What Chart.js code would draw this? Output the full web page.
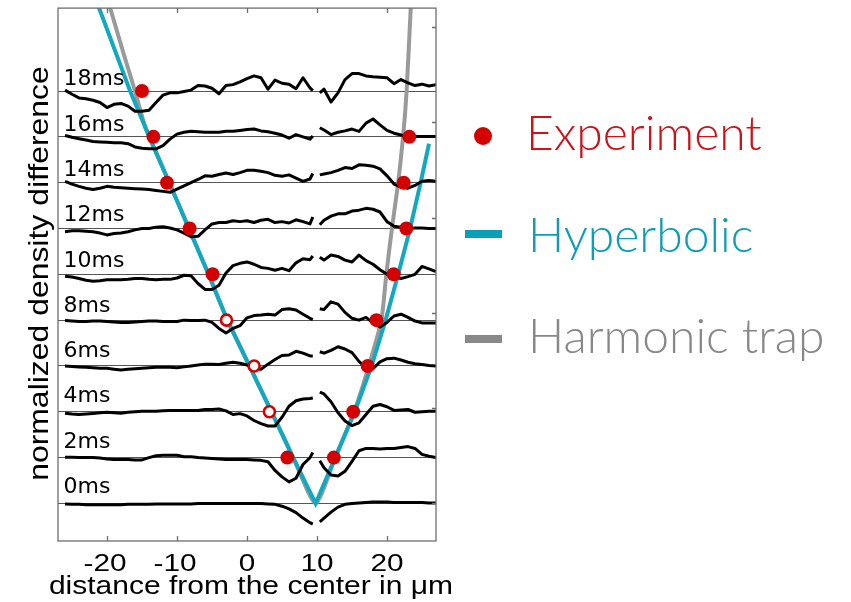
<!DOCTYPE html>
<html>
<head>
<meta charset="utf-8">
<script src="https://cdn.jsdelivr.net/npm/chart.js"></script>
<style>
html,body{margin:0;padding:0;background:#fff;}
</style>
</head>
<body>
<canvas id="myChart" width="851" height="602"></canvas>
<script>
// x positions (um) shared by all traces; 9.9 is the gap in the middle
const xs = [-26,-25,-24,-23,-22,-21,-20,-19,-18,-17,-16,-15,-14,-13,-12,-11,-10,-9,-8,-7,-6,-5,-4,-3,-2,-1,0,1,2,3,4,5,6,7,8,9,
  9.4,9.9,10.4,11,12,13,14,15,16,17,18,19,20,21,22,23,24,25,26,27];

const traceLabels = ['0ms','2ms','4ms','6ms','8ms','10ms','12ms','14ms','16ms','18ms'];

// density difference for each time step (one trace spacing = 1)
const t0 = [-0.01,-0.02,-0.02,-0.03,-0.03,-0.03,-0.03,-0.03,-0.03,-0.02,-0.02,-0.02,-0.02,-0.01,-0.01,-0.01,-0.01,-0.01,-0.01,0,0,0,0,0,0,0,0,0,0,-0.01,-0.02,-0.06,-0.12,-0.20,-0.32,-0.42,
  -0.45,null,-0.40,-0.32,-0.19,-0.08,-0.02,0,0.01,0.02,0.03,0.03,0.03,0.02,0.02,0.02,0.02,0.02,0.01,0.01];
const t2 = [0.01,0.01,0,0,0,-0.01,-0.03,-0.04,-0.04,-0.04,-0.05,-0.05,0,0.04,0.05,0.05,0.05,0.02,0.02,0,-0.01,-0.02,-0.03,-0.04,-0.04,-0.04,-0.04,-0.05,-0.06,-0.09,-0.28,-0.42,-0.53,-0.45,-0.15,0,
  0.11,null,-0.07,-0.22,-0.38,-0.40,-0.30,-0.08,0.15,0.20,0.20,0.19,0.20,0.20,0.22,0.24,0.20,0.07,0.03,0];
const t4 = [-0.03,-0.05,-0.06,-0.05,-0.04,-0.02,-0.01,-0.02,-0.03,-0.01,0,0.01,0.01,0.01,0.02,0.03,0.03,0.03,0.03,0.03,0.05,0.05,0.06,0.02,-0.06,-0.04,-0.09,-0.19,-0.26,-0.31,-0.31,-0.12,0.12,0.24,0.28,0.29,
  0.30,null,0.43,0.39,0.22,-0.02,-0.20,-0.30,-0.24,-0.06,0.12,0.16,0.11,0.03,0.04,0.05,-0.01,0,0.01,0.01];
const t6 = [0,-0.01,-0.02,-0.03,-0.04,-0.05,-0.05,-0.07,-0.09,-0.07,-0.06,-0.05,-0.04,-0.03,-0.03,-0.03,-0.04,-0.02,0,0.02,0.04,0.04,0.03,0.06,0.08,0.06,0.02,-0.06,-0.07,0.04,0.14,0.23,0.24,0.32,0.28,0.22,
  0.22,null,0.31,0.28,0.34,0.42,0.37,0.29,0.10,-0.04,-0.06,0.09,0.16,0.17,0.13,0.08,0.05,0.03,0.01,0];
const t8 = [-0.01,-0.02,-0.03,-0.03,-0.02,-0.02,-0.03,-0.04,-0.05,-0.05,-0.04,-0.03,-0.02,-0.02,-0.03,-0.03,-0.03,0,-0.01,-0.01,0,-0.05,-0.18,-0.28,-0.18,-0.12,0.05,0.10,0.11,0.13,0.11,0.23,0.25,0.22,0.13,0.04,
  0.01,null,0.25,0.23,0.40,0.35,0.17,0.04,0,0.06,-0.06,-0.15,-0.05,0.09,0.13,0.06,-0.02,-0.06,-0.06,-0.06];
const t10 = [-0.04,-0.06,-0.09,-0.13,-0.15,-0.14,-0.12,-0.12,-0.12,-0.11,-0.09,-0.09,-0.11,-0.12,-0.11,-0.11,-0.08,-0.02,-0.03,-0.20,-0.33,-0.33,-0.24,0.03,0.19,0.24,0.27,0.22,0.15,0.13,0.09,0.13,0.08,0.25,0.34,0.32,
  0.40,null,0.37,0.31,0.42,0.39,0.31,0.27,0.42,0.30,0.22,0.10,0,-0.05,-0.09,-0.05,0,0.17,0.12,0.06];
const t12 = [-0.07,-0.05,-0.05,-0.06,-0.07,-0.10,-0.14,-0.11,-0.10,-0.07,-0.03,0,0,0.03,0.04,0.01,-0.03,-0.10,-0.18,-0.17,-0.03,0.10,0.13,0.13,0.17,0.15,0.17,0.13,0.18,0.20,0.13,0.15,0.12,0.19,0.15,0.10,
  0.25,null,0.08,0.18,0.27,0.32,0.32,0.38,0.40,0.44,0.42,0.36,0.15,0.05,0.03,0,0.01,0.01,0,0];
const t14 = [0.03,-0.03,-0.08,-0.12,-0.15,-0.12,-0.08,-0.10,-0.11,-0.12,-0.13,-0.14,-0.15,-0.17,-0.19,-0.21,-0.14,-0.07,0,0.07,0.15,0.14,0.18,0.21,0.18,0.22,0.27,0.27,0.25,0.22,0.16,0.14,0.17,0.10,0.03,0.08,
  0.20,null,0.17,0.19,0.22,0.27,0.33,0.31,0.39,0.38,0.36,0.30,0.15,-0.03,-0.10,-0.12,-0.06,0.03,0.05,0.03];
const t16 = [0.03,-0.01,-0.04,-0.07,-0.10,-0.11,-0.12,-0.13,-0.13,-0.15,-0.22,-0.25,-0.26,-0.26,-0.19,-0.05,0.06,0.10,0.12,0.11,0.10,0.10,0.10,0.12,0.12,0.14,0.16,0.17,0.13,0.11,0.08,0.04,-0.03,0.05,0,-0.05,
  0.02,null,0.20,0.15,0.05,0.10,0.13,0.17,0.12,0.30,0.39,0.26,0.14,0.08,0.04,0,0.01,0.01,0.01,0.01];
const t18 = [0.02,-0.07,-0.15,-0.17,-0.20,-0.25,-0.36,-0.29,-0.27,-0.33,-0.44,-0.44,-0.42,-0.25,-0.09,-0.04,-0.04,-0.01,0.02,0.12,0.11,0.06,-0.06,0.12,0.14,0.20,0.27,0.33,0.29,0.04,0.24,0.17,0.15,0.05,0.29,0.07,
  0.01,null,-0.04,0.04,-0.24,-0.04,0.25,0.38,0.38,0.33,0.31,0.30,0.29,0.16,0.25,0.18,0.12,0.15,0.11,0.14];
const traces = [t0,t2,t4,t6,t8,t10,t12,t14,t16,t18];

// experiment: front positions (x) on each trace (index into traceLabels)
const expFilledX = [-15.0,-13.37,-11.43,-8.2,-4.92,5.76,23.19,22.38,22.76,20.96,18.49,17.25,15.17,12.41];
const expFilledT = [9,8,7,6,5,1,8,7,6,5,4,3,2,1];
const expOpenX = [-2.93,1.02,3.2];
const expOpenT = [4,3,2];

// model curves
const hypX = [-21.2,-16.7,-13.95,-11.1,-8.3,-5.5,-2.8,0.35,3.5,6.6,9.8,12.6,15.4,17.8,19.8,21.6,23.3,24.8,26.0];
const hypY = [10.84,9,8,7,6,5,4,3,2,1,0,1,2,3,4,5,6,7,7.85];
const harmX = [-19.6,-17.6,-16.0,-14.5,-11.1,-8.3,-5.5,-2.8,0.35,3.5,6.6,9.8,12.6,15.3,17.4,19.2,19.9,20.7,21.6,22.3,22.8,23.4];
const harmY = [10.84,9.8,9.0,8.2,7,6,5,4,3,2,1,0,1,2,3,4,5,6,7,8,9,10.84];

const xTicks = [-20,-10,0,10,20];
const xTickLabels = ['-20','-10','0','10','20'];
const rightTicks = [0,2.08,4.16,6.24,8.32,10.4];
const xTitle = 'distance from the center in μm';
const yTitle = 'normalized density difference';

const RED = '#d40000';
const CYAN = '#12a9c0';
const GRAY = '#9a9a9a';
const AXIS = '#6e6e6e';
const SANS = '"Liberation Sans", Arial, sans-serif';

const datasets = [];
datasets.push({
  label: 'Experiment', order: 0, showLine: false,
  data: expFilledX.map((x,i)=>({x, y: expFilledT[i]})),
  pointRadius: 7, pointBackgroundColor: RED, pointBorderWidth: 0
});
datasets.push({
  label: 'Experiment open', order: 0, showLine: false,
  data: expOpenX.map((x,i)=>({x, y: expOpenT[i]})),
  pointRadius: 5.5, pointBackgroundColor: '#fff', pointBorderColor: RED, pointBorderWidth: 2.6
});
traces.forEach((tr,k)=>{
  datasets.push({
    label: traceLabels[k], order: 1,
    data: xs.map((x,i)=>({x, y: tr[i]===null ? null : k + tr[i]})),
    borderColor: '#000', borderWidth: 3, pointRadius: 0, tension: 0, spanGaps: false,
    borderJoinStyle: 'round', borderCapStyle: 'butt'
  });
});
datasets.push({
  label: 'Hyperbolic', order: 2,
  data: hypX.map((x,i)=>({x, y: hypY[i]})),
  borderColor: CYAN, borderWidth: 4, pointRadius: 0, tension: 0
});
datasets.push({
  label: 'Harmonic trap', order: 3,
  data: harmX.map((x,i)=>({x, y: harmY[i]})),
  borderColor: GRAY, borderWidth: 4, pointRadius: 0, tension: 0.2
});

// the figure's Helvetica text is wide; draw it stretched horizontally
function wideText(ctx, text, x, y, sx, rot) {
  ctx.save();
  ctx.translate(x, y);
  if (rot) ctx.rotate(rot);
  ctx.scale(sx, 1);
  ctx.fillText(text, 0, 0);
  ctx.restore();
}

const extras = {
  id: 'extras',
  afterDatasetsDraw(chart) {
    const ctx = chart.ctx, xs_ = chart.scales.x, ys_ = chart.scales.y;
    ctx.save();
    ctx.fillStyle = '#000';
    ctx.font = '22px "DejaVu Sans"';
    ctx.textAlign = 'left';
    ctx.textBaseline = 'alphabetic';
    traceLabels.forEach((t,k)=>{
      ctx.fillText(t, xs_.getPixelForValue(-26.2), ys_.getPixelForValue(k) - (10.5 - 0.55*k));
    });
    ctx.restore();
  },
  afterDraw(chart) {
    const ctx = chart.ctx, a = chart.chartArea, xs_ = chart.scales.x, ys_ = chart.scales.y;
    ctx.save();
    ctx.strokeStyle = AXIS;
    ctx.lineWidth = 1.3;
    ctx.strokeRect(a.left, a.top, a.right - a.left, a.bottom - a.top);
    ctx.beginPath();
    xTicks.forEach(v=>{
      const px = Math.round(xs_.getPixelForValue(v)) + 0.5;
      ctx.moveTo(px, a.bottom); ctx.lineTo(px, a.bottom - 5);
      ctx.moveTo(px, a.top); ctx.lineTo(px, a.top + 5);
    });
    rightTicks.forEach(v=>{
      const py = Math.round(ys_.getPixelForValue(v)) + 0.5;
      ctx.moveTo(a.right, py); ctx.lineTo(a.right - 4, py);
    });
    ctx.stroke();

    // tick labels and axis titles
    ctx.fillStyle = '#000';
    ctx.textAlign = 'center';
    ctx.textBaseline = 'alphabetic';
    ctx.font = '24px ' + SANS;
    xTicks.forEach((v,i)=>{
      wideText(ctx, xTickLabels[i], xs_.getPixelForValue(v) - (v < 0 ? 2 : 0), a.bottom + 29.5, 1.24);
    });
    ctx.font = '25px ' + SANS;
    wideText(ctx, xTitle, (a.left + a.right) / 2 + 4, a.bottom + 53, 1.2);
    ctx.font = '28px ' + SANS;
    wideText(ctx, yTitle, a.left - 10, (a.top + a.bottom) / 2 - 1, 1.14, -Math.PI / 2);

    // legend
    const lx = a.right;
    ctx.textAlign = 'left';
    ctx.font = '300 48px Lato';
    ctx.fillStyle = RED;
    ctx.beginPath(); ctx.arc(lx + 47, 136, 9, 0, Math.PI*2); ctx.fill();
    ctx.fillStyle = '#c8141a';
    ctx.fillText('Experiment', lx + 90, 150);
    ctx.fillStyle = '#0a9fb6';
    ctx.fillRect(lx + 29, 230, 37, 8);
    ctx.fillText('Hyperbolic', lx + 92, 252);
    ctx.fillStyle = '#888';
    ctx.fillRect(lx + 29, 335, 37, 8);
    ctx.fillText('Harmonic trap', lx + 92, 353);
    ctx.restore();
  }
};

new Chart(document.getElementById('myChart'), {
  type: 'line',
  data: { datasets },
  plugins: [extras],
  options: {
    responsive: false,
    animation: false,
    events: [],
    layout: { padding: { left: 0, right: 415, top: 8, bottom: 0 } },
    plugins: { legend: { display: false }, tooltip: { enabled: false } },
    scales: {
      x: {
        type: 'linear', min: -27, max: 27,
        afterBuildTicks: s => { s.ticks = xTicks.map(v=>({value: v})); },
        afterFit: s => { s.height = 61; },
        grid: { display: false, drawTicks: false },
        border: { display: false },
        ticks: { display: false },
        title: { display: false }
      },
      y: {
        type: 'linear', min: -0.82, max: 10.81,
        afterBuildTicks: s => { s.ticks = traceLabels.map((_,k)=>({value: k})); },
        afterFit: s => { s.width = 58; },
        grid: { color: '#555', lineWidth: 1, drawTicks: false },
        border: { display: false },
        ticks: { display: false },
        title: { display: false }
      }
    }
  }
});
</script>
</body>
</html>
